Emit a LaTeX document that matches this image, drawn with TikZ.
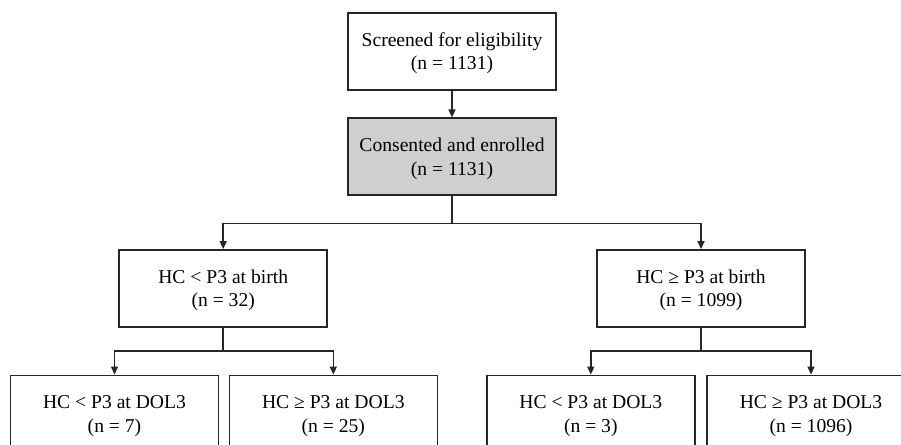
\documentclass[tikz,border=0pt]{standalone}
\usepackage{fontspec}
\setmainfont{Liberation Serif}
\usetikzlibrary{arrows.meta}
\begin{document}
\begin{tikzpicture}[x=1pt,y=-1pt,
  box/.style={draw=black!85, line width=1.5pt, minimum width=208pt, minimum height=77pt,
    align=center, inner sep=0pt, font=\fontsize{19.6}{23.5}\selectfont, text depth=0pt},
  grey/.style={fill=black!19},
  arr/.style={line width=1.5pt, draw=black!85, -{Triangle[length=8pt,width=7pt]}},
  ln/.style={line width=1.5pt, draw=black!85}]
\clip (0,0) rectangle (901,444);
\useasboundingbox (0,0) rectangle (901,444);
\fill[white] (0,0) rectangle (901,444);
\node[box] (top) at (452,51.3) {Screened for eligibility\\(n = 1131)};
\node[box,grey] (cons) at (452,156.7) {Consented and enrolled\\(n = 1131)};
\node[box] (ml) at (223.2,288.3) {HC < P3 at birth\\(n = 32)};
\node[box] (mr) at (701,288.3) {HC ≥ P3 at birth\\(n = 1099)};
\node[box] (b1) at (114.5,413.8) {HC < P3 at DOL3\\(n = 7)};
\node[box] (b2) at (333.3,413.8) {HC ≥ P3 at DOL3\\(n = 25)};
\node[box] (b3) at (590.8,413.8) {HC < P3 at DOL3\\(n = 3)};
\node[box] (b4) at (811,413.8) {HC ≥ P3 at DOL3\\(n = 1096)};
\draw[arr] (top) -- (cons);
\draw[ln] (cons.south) -- ++(0,27.3) coordinate (s1);
\draw[arr] (s1) -| (ml.north);
\draw[arr] (s1) -| (mr.north);
\draw[ln] (ml.south) -- ++(0,23.5) coordinate (s2);
\draw[arr] (s2) -| (b1.north);
\draw[arr] (s2) -| (b2.north);
\draw[ln] (mr.south) -- ++(0,23.5) coordinate (s3);
\draw[arr] (s3) -| (b3.north);
\draw[arr] (s3) -| (b4.north);
\end{tikzpicture}
\end{document}
